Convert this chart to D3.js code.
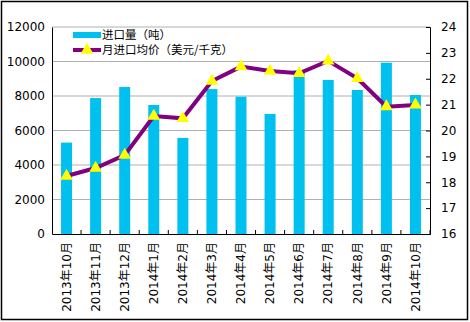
<!DOCTYPE html>
<html>
<head>
<meta charset="utf-8">
<script src="https://cdn.jsdelivr.net/npm/d3@7"></script>
<style>
  body { margin: 0; background: #fff; }
  text { font-family: "DejaVu Sans", "Noto Sans CJK SC", sans-serif; }
</style>
</head>
<body>
<script>
// data
const months = ["2013年10月", "2013年11月", "2013年12月", "2014年1月", "2014年2月", "2014年3月", "2014年4月",
  "2014年5月", "2014年6月", "2014年7月", "2014年8月", "2014年9月", "2014年10月"];
const volume = [5300, 7880, 8520, 7480, 5570, 8400, 7960, 6960, 9500, 8930, 8350, 9930, 8060];
const price = [18.24, 18.55, 19.05, 20.56, 20.47, 21.91, 22.47, 22.3, 22.21, 22.69, 22.02, 20.92, 20.99];
const leftTicks = [0, 2000, 4000, 6000, 8000, 10000, 12000];
const rightTicks = [16, 17, 18, 19, 20, 21, 22, 23, 24];
const seriesNames = ["进口量（吨）", "月进口均价（美元/千克）"];
// data

const W = 470, H = 322;
const margin = { top: 27, right: 40, bottom: 88, left: 52 };
const width = W - margin.left - margin.right,
      height = H - margin.top - margin.bottom;

const svg = d3.select("body").append("svg")
  .attr("width", W)
  .attr("height", H);

// outer frame
svg.append("rect")
  .attr("x", 1.5).attr("y", 1.5)
  .attr("width", W - 4).attr("height", H - 4)
  .attr("fill", "none")
  .attr("stroke", "#000")
  .attr("stroke-width", 1.5);

const g = svg.append("g")
  .attr("transform", `translate(${margin.left},${margin.top})`);

const x = d3.scaleBand().domain(months).range([0, width]);
const yL = d3.scaleLinear().domain([0, 12000]).range([height, 0]);
const yR = d3.scaleLinear().domain([16, 24]).range([height, 0]);

// grid
g.selectAll(".grid")
  .data(leftTicks.filter(d => d > 0))
  .enter().append("line")
  .attr("x1", 0).attr("x2", width)
  .attr("y1", d => yL(d)).attr("y2", d => yL(d))
  .attr("stroke", "#b0b0b0")
  .attr("stroke-width", 1);

// bars
const barW = 11;
g.selectAll(".bar")
  .data(volume)
  .enter().append("rect")
  .attr("x", (d, i) => x(months[i]) + x.bandwidth() / 2 - barW / 2)
  .attr("width", barW)
  .attr("y", d => yL(d))
  .attr("height", d => height - yL(d))
  .attr("fill", "#00c0f0");

// line
const line = d3.line()
  .x((d, i) => x(months[i]) + x.bandwidth() / 2)
  .y(d => yR(d));
g.append("path")
  .datum(price)
  .attr("d", line)
  .attr("fill", "none")
  .attr("stroke", "#800080")
  .attr("stroke-width", 4);

const tri = d3.symbol().type(d3.symbolTriangle).size(70);
g.selectAll(".mark")
  .data(price)
  .enter().append("path")
  .attr("d", tri)
  .attr("transform", (d, i) => `translate(${x(months[i]) + x.bandwidth() / 2},${yR(d)})`)
  .attr("fill", "#ffff00");

// axes
const axL = g.append("g")
  .call(d3.axisLeft(yL).tickValues(leftTicks).tickFormat(d3.format("d")).tickSize(0).tickPadding(7));
const axR = g.append("g")
  .attr("transform", `translate(${width},0)`)
  .call(d3.axisRight(yR).tickValues(rightTicks).tickSize(-4).tickPadding(11));
const axB = g.append("g")
  .attr("transform", `translate(0,${height})`)
  .call(d3.axisBottom(x).tickSize(-4).tickSizeOuter(0));

[axL, axR, axB].forEach(a => {
  a.select(".domain").attr("stroke", "#000");
  a.selectAll(".tick line").attr("stroke", "#000");
  a.selectAll("text").attr("fill", "#000").style("font-size", "12px")
    .style("font-family", "\"DejaVu Sans\", \"Noto Sans CJK SC\", sans-serif");
});
axB.selectAll(".tick line").attr("transform", `translate(${x.bandwidth() / 2},0)`);
axB.selectAll(".tick text")
  .attr("transform", "rotate(-90)")
  .attr("text-anchor", "end")
  .attr("dx", "-8px")
  .attr("dy", "0.35em")
  .attr("x", 0).attr("y", 0);

// legend
const leg = g.append("g").attr("transform", "translate(21,8)");
leg.append("rect")
  .attr("x", 0).attr("y", -3).attr("width", 28).attr("height", 6)
  .attr("fill", "#00c0f0");
leg.append("line")
  .attr("x1", 0).attr("x2", 28).attr("y1", 15).attr("y2", 15)
  .attr("stroke", "#800080").attr("stroke-width", 4);
leg.append("path")
  .attr("d", tri)
  .attr("transform", "translate(14,15)")
  .attr("fill", "#ffff00");
leg.selectAll(".lt")
  .data(seriesNames)
  .enter().append("text")
  .attr("x", 29)
  .attr("y", (d, i) => i * 15)
  .attr("dy", "0.35em")
  .style("font-family", "\"Noto Sans CJK SC\", sans-serif")
  .style("font-size", "11.5px")
  .text(d => d);
</script>
</body>
</html>
